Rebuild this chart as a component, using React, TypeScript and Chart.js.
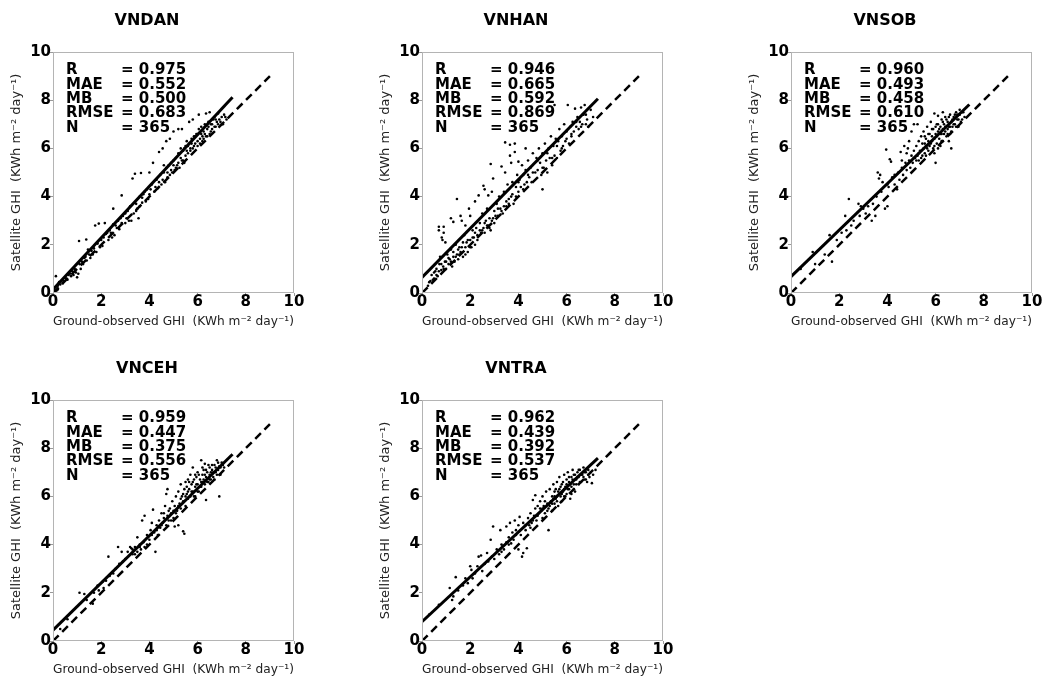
import React, { useEffect, useRef } from "react";
import { Chart, registerables } from "chart.js";
Chart.register(...registerables);

const FONT = "'DejaVu Sans', 'Liberation Sans', sans-serif";

const stations = ["VNDAN", "VNHAN", "VNSOB", "VNCEH", "VNTRA"];
const statLabels = ["R", "MAE", "MB", "RMSE", "N"];
const statR = ["0.975", "0.946", "0.960", "0.959", "0.962"];
const statMAE = ["0.552", "0.665", "0.493", "0.447", "0.439"];
const statMB = ["0.500", "0.592", "0.458", "0.375", "0.392"];
const statRMSE = ["0.683", "0.869", "0.610", "0.556", "0.537"];
const statN = ["365", "365", "365", "365", "365"];

const fitSlope = [1.07, 1.015, 0.965, 0.98, 0.93];
const fitIntercept = [0.15, 0.65, 0.68, 0.45, 0.8];
const fitXMax = [7.45, 7.3, 7.4, 7.45, 7.3];
const oneToOneMax = 9;

const axisTicks = [0, 2, 4, 6, 8, 10];
const xTitle = "Ground-observed GHI  (KWh m\u207B\u00B2 day\u207B\u00B9)";
const yTitle = "Satellite GHI  (KWh m\u207B\u00B2 day\u207B\u00B9)";

const vndanPoints = [
  [0.05,0.1],[0.1,0.25],[0.15,0.1],[0.2,0.3],[0.12,0.7],[0.3,0.35],[0.35,0.5],[0.45,0.5],[0.5,0.65],[0.6,0.55],
  [0.65,0.75],[0.7,0.8],[0.8,0.9],[0.85,0.75],[0.9,1.0],[1.0,0.65],[1.05,0.8],[1.1,1.2],[1.08,2.16],[1.2,1.3],
  [1.3,1.45],[1.4,1.35],[1.38,2.22],[1.5,1.6],[1.45,1.8],[1.6,1.75],[1.7,1.85],[1.75,2.8],[1.8,1.7],[1.85,2.05],
  [1.9,2.88],[2.0,2.2],[2.05,1.95],[2.1,2.3],[2.15,2.9],[2.2,2.45],[2.3,2.2],[2.35,2.6],[2.4,2.5],[2.5,2.85],
  [2.5,3.5],[2.55,2.4],[2.6,2.8],[2.7,3.0],[2.75,2.65],[2.85,4.05],[2.8,3.1],[2.9,3.2],[3.0,3.3],[3.0,2.9],
  [3.1,3.4],[3.2,3.6],[3.25,3.0],[3.3,4.75],[3.35,3.3],[3.4,4.95],[3.45,3.7],[3.5,3.5],[3.55,3.1],[3.6,4.0],
  [3.65,4.98],[3.7,3.75],[3.75,4.1],[3.8,4.2],[3.85,3.8],[3.9,4.3],[4.0,5.0],[4.0,4.1],[4.1,4.5],[4.15,5.4],
  [4.2,4.2],[4.3,4.7],[4.35,4.35],[4.4,5.85],[4.45,4.9],[4.5,4.5],[4.55,6.0],[4.6,5.0],[4.65,4.6],[4.7,6.3],
  [4.7,5.2],[4.75,4.8],[4.8,5.3],[4.85,6.4],[4.85,4.9],[4.9,5.4],[4.95,5.0],[5.0,6.7],[5.0,5.5],[5.05,5.1],
  [5.1,5.6],[5.15,5.3],[5.2,6.8],[5.2,5.8],[5.25,5.2],[5.3,6.0],[5.35,6.8],[5.35,5.5],[5.4,5.9],[5.45,5.4],
  [5.5,6.1],[5.5,5.7],[5.55,6.3],[5.6,5.8],[5.65,7.1],[5.65,6.2],[5.7,5.9],[5.75,6.4],[5.8,7.2],[5.8,6.0],
  [5.85,6.5],[5.9,6.2],[5.95,6.6],[6.0,6.3],[6.05,7.4],[6.05,6.8],[6.1,6.4],[6.15,6.9],[6.2,6.3],[6.25,6.7],
  [6.3,7.0],[6.35,7.45],[6.35,6.5],[6.4,6.8],[6.45,7.1],[6.5,7.5],[6.5,6.6],[6.55,7.0],[6.6,6.8],[6.65,7.2],
  [6.7,7.3],[6.75,6.9],[6.8,7.1],[6.85,7.45],[6.9,7.2],[7.0,7.3],[7.05,7.0],[7.1,7.4],[7.2,7.2],
  [0.2,0.15],[0.25,0.45],[0.4,0.4],[0.55,0.6],[0.75,0.7],[0.95,0.85],[1.15,1.0],[1.25,1.2],[1.35,1.5],[1.55,1.45],
  [1.65,1.6],[1.95,1.9],[2.25,2.5],[2.45,2.3],[2.65,2.7],[2.85,2.9],[3.05,3.1],[3.15,3.0],[3.45,3.4],[3.6,3.6],
  [3.7,3.95],[3.95,3.9],[4.05,4.3],[4.25,4.4],[4.4,4.6],[4.55,4.7],[4.6,5.3],[4.75,5.0],[4.9,5.1],[5.0,5.3],
  [5.1,5.2],[5.2,5.4],[5.3,5.6],[5.4,5.5],[5.45,6.0],[5.55,5.9],[5.6,6.1],[5.7,6.0],[5.75,6.2],[5.85,6.1],
  [5.9,6.5],[6.0,6.1],[6.0,6.6],[6.1,6.2],[6.15,6.6],[6.2,6.5],[6.25,6.4],[6.3,6.6],[6.4,6.5],[6.45,6.9],
  [6.55,6.7],[6.6,7.0],[6.7,6.9],[6.75,7.2],[6.85,7.0],[6.95,7.1],[7.0,7.0],[7.15,7.3]
];

const vnhanPoints = [
  [0.25,0.3],[0.35,0.5],[0.4,0.75],[0.5,0.6],[0.55,0.9],[0.6,1.0],[0.65,0.7],[0.7,2.75],[0.7,2.6],[0.72,1.2],
  [0.75,1.5],[0.8,0.95],[0.82,2.3],[0.85,2.2],[0.88,1.1],[0.9,2.75],[0.9,2.5],[0.95,1.3],[0.97,2.1],[1.0,1.0],
  [1.05,1.6],[1.1,1.2],[1.15,1.4],[1.2,3.1],[1.2,1.8],[1.25,1.1],[1.3,2.95],[1.3,1.5],[1.35,1.3],[1.4,2.0],
  [1.45,3.9],[1.45,1.6],[1.5,1.4],[1.55,1.9],[1.6,3.2],[1.6,1.7],[1.65,3.0],[1.7,1.5],[1.75,2.4],[1.8,2.8],
  [1.8,1.9],[1.85,2.1],[1.9,1.7],[1.95,3.5],[2.0,3.2],[2.0,2.2],[2.05,1.9],[2.1,2.6],[2.15,2.3],[2.2,3.8],
  [2.2,2.0],[2.25,2.7],[2.3,2.4],[2.35,4.05],[2.4,2.9],[2.45,2.5],[2.5,3.3],[2.55,4.45],[2.55,2.7],[2.6,4.3],
  [2.6,2.9],[2.7,3.5],[2.75,4.05],[2.75,2.8],[2.8,3.1],[2.85,5.35],[2.85,2.6],[2.9,4.2],[2.9,3.0],[2.95,4.75],
  [3.0,3.4],[3.0,2.9],[3.1,3.7],[3.15,3.2],[3.2,4.0],[3.25,3.5],[3.3,5.25],[3.35,3.3],[3.4,4.2],[3.45,5.0],
  [3.45,6.25],[3.5,3.6],[3.55,4.5],[3.6,3.9],[3.65,5.7],[3.65,6.15],[3.7,5.4],[3.7,4.0],[3.75,4.6],[3.8,3.7],
  [3.85,5.85],[3.85,6.2],[3.9,4.4],[3.95,4.9],[4.0,5.45],[4.0,4.2],[4.05,4.7],[4.1,4.4],[4.15,5.3],[4.2,4.9],
  [4.25,4.5],[4.3,6.0],[4.3,5.1],[4.35,4.6],[4.4,5.5],[4.45,4.8],[4.5,5.2],[4.55,4.6],[4.6,5.8],[4.7,5.0],
  [4.75,5.6],[4.8,5.1],[4.85,6.0],[4.9,5.4],[4.95,4.9],[5.0,4.3],[5.0,5.8],[5.05,5.2],[5.1,6.2],[5.15,5.5],
  [5.2,5.0],[5.25,6.0],[5.3,5.6],[5.35,6.5],[5.4,5.3],[5.45,6.1],[5.5,7.8],[5.5,5.7],[5.55,6.4],[5.6,5.6],
  [5.65,6.3],[5.7,6.8],[5.75,5.9],[5.8,6.5],[5.85,6.1],[5.9,7.0],[5.95,6.3],[6.0,6.7],[6.05,7.8],[6.1,6.2],
  [6.15,6.9],[6.2,6.5],[6.25,7.1],[6.3,6.7],[6.35,7.65],[6.4,6.9],[6.45,7.3],[6.5,6.8],[6.55,7.1],[6.6,7.7],
  [6.65,7.0],[6.7,7.4],[6.75,7.8],[6.8,7.0],[6.85,7.2],[6.9,6.9],[7.0,7.6],[7.1,7.3],
  [0.3,0.45],[0.45,0.55],[0.5,0.85],[0.6,0.75],[0.7,0.9],[0.8,1.2],[0.9,1.0],[1.0,1.3],[1.1,1.45],[1.2,1.3],
  [1.3,1.7],[1.4,1.5],[1.5,1.8],[1.55,1.6],[1.65,1.9],[1.7,2.1],[1.8,1.6],[1.9,2.2],[2.0,1.9],[2.1,2.3],
  [2.2,2.5],[2.3,2.2],[2.4,2.6],[2.5,2.6],[2.6,2.5],[2.65,3.0],[2.7,2.8],[2.8,2.7],[2.95,3.1],[3.05,3.2],
  [3.15,3.5],[3.3,3.4],[3.4,3.6],[3.5,3.8],[3.6,3.7],[3.75,4.1],[3.9,4.0],[4.0,4.6],[4.2,4.3],[4.4,4.9],
  [4.6,5.0],[4.8,5.5],[5.0,5.2],[5.2,5.8],[5.4,5.6],[5.6,6.1],[5.8,6.0],[6.0,6.4],[6.2,6.6],[6.4,7.1],
  [6.6,6.9],[6.8,7.4]
];

const vnsobPoints = [
  [0.4,1.0],[0.9,1.7],[1.0,1.2],[1.4,1.6],[1.6,2.4],[1.7,1.3],[1.9,2.2],[2.1,2.5],[2.25,3.2],[2.3,2.6],
  [2.4,3.9],[2.5,2.8],[2.6,3.0],[2.8,3.7],[2.9,3.6],[2.85,3.2],[3.0,3.5],[3.1,3.3],[3.2,3.6],[3.35,3.0],
  [3.4,3.7],[3.5,3.2],[3.55,4.0],[3.6,5.0],[3.65,4.75],[3.7,4.9],[3.75,4.2],[3.8,4.6],[3.9,3.5],[3.95,5.95],
  [4.0,3.6],[4.05,4.4],[4.1,5.55],[4.15,5.45],[4.2,4.8],[4.3,4.5],[4.4,4.3],[4.45,5.0],[4.5,4.7],[4.55,5.85],
  [4.6,5.2],[4.65,4.9],[4.7,6.1],[4.75,5.4],[4.8,5.1],[4.85,6.0],[4.9,6.3],[4.9,5.5],[4.95,5.2],[5.0,6.7],
  [5.0,5.7],[5.05,5.4],[5.1,7.0],[5.1,5.9],[5.15,5.6],[5.2,6.1],[5.25,7.0],[5.25,5.7],[5.3,6.3],[5.35,5.9],
  [5.4,6.5],[5.4,5.6],[5.45,6.2],[5.5,6.0],[5.5,6.7],[5.55,5.8],[5.6,6.4],[5.6,6.1],[5.65,6.9],[5.7,6.3],
  [5.7,5.9],[5.75,6.6],[5.8,6.2],[5.8,7.1],[5.85,6.5],[5.9,6.0],[5.9,6.8],[5.95,7.45],[5.95,6.4],[6.0,6.6],
  [6.0,5.4],[6.05,7.0],[6.05,6.2],[6.1,7.35],[6.1,6.7],[6.15,6.4],[6.2,6.9],[6.2,6.1],[6.25,7.2],[6.25,6.6],
  [6.3,6.8],[6.3,6.3],[6.35,7.0],[6.4,6.7],[6.4,7.3],[6.45,6.5],[6.5,7.1],[6.5,6.8],[6.55,6.9],[6.6,7.4],
  [6.6,6.6],[6.65,6.0],[6.65,7.1],[6.7,6.9],[6.75,7.3],[6.8,7.0],[6.85,7.5],[6.9,7.2],[6.95,6.9],[7.0,7.4],
  [7.05,7.1],[7.1,7.5],[7.2,7.3],
  [5.2,5.5],[5.3,5.8],[5.45,5.7],[5.55,6.2],[5.65,6.0],[5.75,6.1],[5.85,6.3],[5.85,6.8],[5.95,6.1],[6.0,6.9],
  [6.05,6.5],[6.1,6.0],[6.15,6.8],[6.2,6.6],[6.25,6.3],[6.3,7.1],[6.35,6.6],[6.4,6.9],[6.45,7.2],[6.5,6.6],
  [6.55,7.3],[6.6,6.9],[6.65,6.7],[6.7,7.2],[6.75,7.0],[6.8,7.4],[6.85,6.9],[6.9,7.4],[6.95,7.2],[7.0,7.6],
  [7.1,7.2],[7.15,7.5],[6.3,7.5],[6.1,7.0],[5.95,5.8],[5.7,6.6],[5.55,6.5],[6.55,6.3],[4.0,4.5],[4.3,4.9],
  [4.6,5.5],[4.8,5.8],[5.1,5.6],[5.3,5.5],[5.6,5.7]
];

const vncehPoints = [
  [0.3,0.5],[0.6,0.9],[1.1,2.0],[1.3,1.95],[1.4,1.7],[1.65,1.55],[1.7,2.0],[1.85,2.3],[1.9,2.1],[2.05,2.45],
  [2.1,2.2],[2.2,2.5],[2.3,3.5],[2.35,2.7],[2.5,2.8],[2.6,3.0],[2.7,3.9],[2.75,3.2],[2.85,3.7],[2.9,3.3],
  [3.0,3.4],[3.1,3.7],[3.2,3.9],[3.25,3.85],[3.3,3.6],[3.4,3.9],[3.5,4.3],[3.5,3.7],[3.6,4.0],[3.65,3.8],
  [3.7,5.0],[3.75,4.1],[3.8,5.2],[3.8,3.9],[3.9,4.4],[4.0,4.2],[4.05,4.6],[4.1,4.9],[4.15,5.45],[4.2,4.5],
  [4.25,3.7],[4.3,4.8],[4.35,4.4],[4.4,5.0],[4.45,4.7],[4.5,5.3],[4.55,4.9],[4.6,5.1],[4.65,5.6],[4.7,6.1],
  [4.7,4.8],[4.75,6.3],[4.75,5.2],[4.8,5.0],[4.85,5.5],[4.9,5.3],[4.95,5.8],[5.0,5.1],[5.05,4.75],[5.05,5.6],
  [5.1,6.0],[5.15,5.4],[5.2,4.8],[5.2,6.2],[5.25,5.7],[5.3,6.5],[5.3,5.5],[5.35,6.0],[5.4,4.55],[5.4,5.8],
  [5.45,4.45],[5.45,6.3],[5.5,6.6],[5.5,5.6],[5.55,6.1],[5.6,5.9],[5.6,6.7],[5.65,6.3],[5.7,6.0],[5.7,6.9],
  [5.75,6.5],[5.8,6.2],[5.8,7.2],[5.85,6.7],[5.9,6.4],[5.9,6.0],[5.95,6.8],[6.0,6.5],[6.0,7.0],[6.05,6.2],
  [6.1,6.7],[6.15,7.5],[6.15,6.4],[6.2,6.9],[6.2,6.6],[6.25,7.1],[6.3,7.35],[6.3,6.5],[6.35,5.85],[6.35,6.8],
  [6.4,7.0],[6.45,6.6],[6.5,7.2],[6.5,6.9],[6.55,6.7],[6.6,7.1],[6.65,6.8],[6.7,7.3],[6.75,7.0],[6.8,7.5],
  [6.85,7.1],[6.9,7.25],[6.9,6.0],[6.95,6.9],[7.0,7.4],[7.1,7.2],
  [5.0,5.4],[5.1,5.3],[5.2,5.6],[5.3,5.9],[5.4,6.1],[5.5,6.0],[5.55,6.4],[5.6,6.2],[5.65,6.6],[5.75,6.2],
  [5.8,6.6],[5.85,6.0],[5.9,6.9],[5.95,6.5],[6.0,6.2],[6.05,6.9],[6.1,6.4],[6.15,6.6],[6.2,7.2],[6.25,6.7],
  [6.3,6.9],[6.35,7.1],[6.4,6.6],[6.45,7.3],[6.5,6.7],[6.55,7.0],[6.6,7.3],[6.65,7.0],[6.7,6.7],[6.75,7.2],
  [6.8,6.9],[6.85,7.4],[6.95,7.2],[7.05,7.3],[4.5,4.8],[4.6,5.3],[4.8,5.4],[4.9,5.0],[3.9,4.0],[3.6,3.9],
  [3.3,3.8],[3.4,3.6],[4.1,4.4],[4.3,4.6]
];

const vntraPoints = [
  [0.3,1.1],[0.7,1.5],[1.15,2.2],[1.25,1.7],[1.3,1.85],[1.4,2.65],[1.5,2.1],[1.7,2.3],[1.8,2.6],[1.9,2.4],
  [2.0,3.1],[2.05,2.95],[2.1,2.6],[2.2,2.8],[2.3,3.1],[2.35,3.5],[2.45,3.55],[2.5,2.9],[2.6,3.2],[2.7,3.65],
  [2.75,3.3],[2.85,4.2],[2.9,3.5],[2.95,4.75],[3.0,3.4],[3.1,3.8],[3.2,3.6],[3.25,4.6],[3.3,4.0],[3.4,3.8],
  [3.5,4.75],[3.5,4.1],[3.6,4.3],[3.65,4.9],[3.7,4.05],[3.75,4.5],[3.8,4.2],[3.85,5.0],[3.9,4.6],[4.0,3.8],
  [4.0,4.8],[4.05,5.15],[4.1,4.4],[4.15,3.5],[4.2,3.65],[4.2,4.9],[4.3,4.6],[4.35,3.85],[4.4,5.1],[4.45,4.8],
  [4.5,5.3],[4.55,4.9],[4.6,5.85],[4.65,5.2],[4.7,6.05],[4.7,5.5],[4.75,5.0],[4.8,5.6],[4.85,5.3],[4.9,5.8],
  [4.95,5.4],[5.0,5.1],[5.0,6.0],[5.05,5.6],[5.1,5.3],[5.15,6.2],[5.2,5.7],[5.25,4.6],[5.25,5.5],[5.3,6.3],
  [5.35,5.8],[5.4,6.0],[5.4,5.4],[5.45,6.5],[5.5,5.7],[5.5,6.2],[5.55,5.9],[5.6,6.6],[5.6,6.0],[5.65,5.6],
  [5.7,6.3],[5.7,6.8],[5.75,6.0],[5.8,6.5],[5.8,5.8],[5.85,6.2],[5.9,6.9],[5.9,6.0],[5.95,6.4],[6.0,6.7],
  [6.0,6.1],[6.05,7.0],[6.1,6.3],[6.1,6.6],[6.15,5.9],[6.2,6.8],[6.2,6.4],[6.25,7.1],[6.3,6.5],[6.35,6.9],
  [6.35,6.2],[6.4,6.7],[6.45,7.0],[6.5,6.5],[6.5,6.8],[6.55,7.1],[6.6,6.6],[6.65,6.9],[6.7,7.2],[6.75,6.7],
  [6.8,7.0],[6.85,6.6],[6.9,7.1],[6.95,6.8],[7.05,6.55],[7.1,6.9],[7.2,7.1],
  [5.0,5.5],[5.1,5.8],[5.2,5.4],[5.3,5.6],[5.4,5.7],[5.45,5.9],[5.5,6.0],[5.55,6.3],[5.6,5.8],[5.65,6.2],
  [5.75,6.4],[5.8,6.1],[5.85,6.6],[5.9,6.3],[5.95,6.0],[6.0,6.5],[6.05,6.3],[6.1,6.8],[6.15,6.5],[6.2,6.1],
  [6.25,6.7],[6.3,6.9],[6.3,6.3],[6.4,6.5],[6.45,6.8],[6.5,7.1],[6.55,6.6],[6.6,6.9],[6.7,6.8],[6.75,7.0],
  [6.8,6.7],[6.9,6.9],[7.0,7.0],[4.6,5.0],[4.8,5.2],[4.9,5.5],[4.3,4.8],[4.5,4.7],[3.9,4.4],[3.6,4.0],
  [3.3,3.7]
];

const pointSets = [vndanPoints, vnhanPoints, vnsobPoints, vncehPoints, vntraPoints];

const panelLeft = [0, 369, 738, 0, 369];
const panelTop = [0, 0, 0, 348, 348];
const panelWidth = [330, 330, 325, 330, 330];

function Panel({ idx }: { idx: number }) {
  const ref = useRef<HTMLCanvasElement | null>(null);
  const width = panelWidth[idx];
  const height = 330;
  useEffect(() => {
    if (!ref.current) return;
    const slope = fitSlope[idx];
    const b = fitIntercept[idx];
    const xm = fitXMax[idx];
    const values = [statR[idx], statMAE[idx], statMB[idx], statRMSE[idx], statN[idx]];

    const framePlugin = {
      id: "frame",
      afterDraw(chart: any) {
        const { ctx, chartArea } = chart;
        ctx.save();
        ctx.strokeStyle = "#b4b4b4";
        ctx.lineWidth = 1;
        ctx.strokeRect(chartArea.left + 0.5, chartArea.top + 0.5, chartArea.right - chartArea.left - 1, chartArea.bottom - chartArea.top - 1);
        ctx.fillStyle = "#000";
        ctx.font = `bold 15px ${FONT}`;
        ctx.textBaseline = "middle";
        ctx.textAlign = "left";
        statLabels.forEach((lab, i) => {
          const y = chartArea.top + 18.3 + i * 14.4;
          ctx.fillText(lab, chartArea.left + 13, y);
          ctx.fillText("= " + values[i], chartArea.left + 68, y);
        });
        ctx.restore();
      },
    };

    const chart = new Chart(ref.current, {
      type: "scatter",
      data: {
        datasets: [
          {
            data: [{ x: 0, y: b }, { x: xm, y: b + slope * xm }],
            showLine: true,
            borderColor: "#000",
            borderWidth: 3,
            pointRadius: 0,
            order: 0,
          },
          {
            data: [{ x: 0, y: 0 }, { x: oneToOneMax, y: oneToOneMax }],
            showLine: true,
            borderColor: "#000",
            borderWidth: 2.5,
            borderDash: [8, 5],
            pointRadius: 0,
            order: 0,
          },
          {
            data: pointSets[idx].map(([x, y]) => ({ x, y })),
            pointRadius: 1.3,
            pointBackgroundColor: "#000",
            pointBorderWidth: 0,
            order: 1,
          },
        ],
      } as any,
      options: {
        animation: false,
        responsive: false,
        layout: { padding: { left: 0, top: 0, right: width - 294, bottom: 1 } },
        plugins: {
          legend: { display: false },
          tooltip: { enabled: false },
          title: {
            display: true,
            text: stations[idx],
            color: "#000",
            font: { family: FONT, size: 16, weight: "bold", lineHeight: 1.2 },
            padding: { top: 11.4, bottom: 21.4 },
          },
        },
        scales: {
          x: {
            type: "linear",
            min: 0,
            max: 10,
            afterFit: (s: any) => { s.height = 36; },
            afterBuildTicks: (s: any) => { s.ticks = axisTicks.map((v) => ({ value: v })); },
            grid: { display: true, drawOnChartArea: false, drawTicks: true, tickLength: 3, tickColor: "#999" },
            border: { display: false },
            ticks: { color: "#000", padding: -1, font: { family: FONT, size: 15, weight: "bold", lineHeight: 1.0 } },
            title: { display: true, text: xTitle, color: "#222", font: { family: FONT, size: 13, lineHeight: 1.2 }, padding: { top: 0, bottom: 0 } },
          },
          y: {
            type: "linear",
            min: 0,
            max: 10,
            afterFit: (s: any) => { s.width = 53; },
            afterBuildTicks: (s: any) => { s.ticks = axisTicks.map((v) => ({ value: v })); },
            grid: { display: true, drawOnChartArea: false, drawTicks: true, tickLength: 3, tickColor: "#999" },
            border: { display: false },
            ticks: { color: "#000", padding: -1, font: { family: FONT, size: 15, weight: "bold", lineHeight: 1.0 } },
            title: { display: true, text: yTitle, color: "#222", font: { family: FONT, size: 13, lineHeight: 1.2 }, padding: { top: 9, bottom: 0 } },
          },
        },
      } as any,
      plugins: [framePlugin],
    });
    return () => chart.destroy();
  }, [idx, width]);
  return (
    <canvas
      ref={ref}
      width={width}
      height={height}
      style={{ position: "absolute", left: panelLeft[idx], top: panelTop[idx], width, height }}
    />
  );
}

export default function App() {
  return (
    <div style={{ position: "absolute", left: 0, top: 0, width: 1063, height: 680, background: "#fff", overflow: "hidden" }}>
      {stations.map((_, i) => (
        <Panel key={i} idx={i} />
      ))}
    </div>
  );
}
